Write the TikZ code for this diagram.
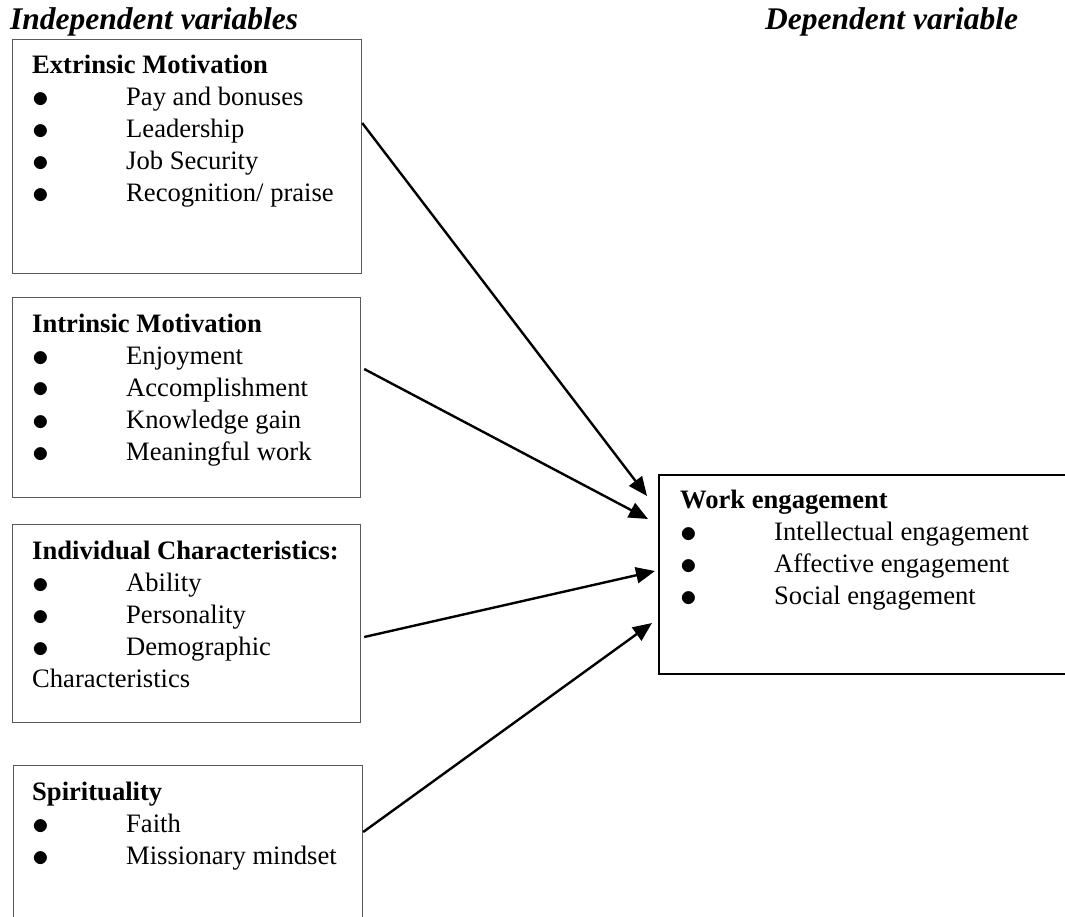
\documentclass[tikz,border=0pt]{standalone}
\usepackage{fontspec}
\setmainfont{Liberation Serif}
\usetikzlibrary{arrows.meta,calc}

\newcommand{\itemfont}{\fontsize{26.6}{32}\selectfont}
\newcommand{\titlefont}{\fontsize{31.5}{36}\selectfont\bfseries\itshape}
\newcommand{\dotmark}{\raisebox{-2pt}{\scalebox{1.35}{$\bullet$}}}

\tikzset{
  varbox/.style={draw=black!65,line width=1.2pt,rectangle,inner sep=0pt,anchor=north west},
  depbox/.style={draw=black,line width=1.8pt,rectangle,inner sep=0pt,anchor=north west},
  varlist/.style={inner sep=0pt,anchor=base west,font=\itemfont},
  heading/.style={inner sep=0pt,anchor=base west,font=\titlefont},
  link/.style={line width=2.4pt,-{Triangle[length=19pt,width=16pt]}}
}

\begin{document}
\begin{tikzpicture}[x=1pt,y=-1pt]
  \useasboundingbox (0,0) rectangle (1065,917);
  \clip (0,0) rectangle (1065,917);

  \node[heading] (indep) at (10,30) {Independent variables};
  \node[heading] (dep) at (765,30) {Dependent variable};

  % the boxes
  \node[varbox,minimum width=349,minimum height=234] (ext) at (12,39) {};
  \node[varbox,minimum width=348,minimum height=200] (intr) at (12,297) {};
  \node[varbox,minimum width=348,minimum height=198] (indiv) at (12,524) {};
  \node[varbox,minimum width=349,minimum height=180] (spir) at (13,765) {};
  \node[depbox,minimum width=450,minimum height=199] (work) at (658,474) {};

  % the lists
  \node[varlist] (extlist) at (32,74) {\begin{tabular}[t]{@{}p{94pt}@{}l@{}}
    \multicolumn{2}{@{}l@{}}{\textbf{Extrinsic Motivation}}\\
    \dotmark & Pay and bonuses\\
    \dotmark & Leadership\\
    \dotmark & Job Security\\
    \dotmark & Recognition/ praise
  \end{tabular}};
  \node[varlist] (intrlist) at (32,332) {\begin{tabular}[t]{@{}p{94pt}@{}l@{}}
    \multicolumn{2}{@{}l@{}}{\textbf{Intrinsic Motivation}}\\
    \dotmark & Enjoyment\\
    \dotmark & Accomplishment\\
    \dotmark & Knowledge gain\\
    \dotmark & Meaningful work
  \end{tabular}};
  \node[varlist] (indivlist) at (32,559) {\begin{tabular}[t]{@{}p{94pt}@{}l@{}}
    \multicolumn{2}{@{}l@{}}{\textbf{Individual Characteristics:}}\\
    \dotmark & Ability\\
    \dotmark & Personality\\
    \dotmark & Demographic\\
    \multicolumn{2}{@{}l@{}}{Characteristics}
  \end{tabular}};
  \node[varlist] (spirlist) at (32,800) {\begin{tabular}[t]{@{}p{94pt}@{}l@{}}
    \multicolumn{2}{@{}l@{}}{\textbf{Spirituality}}\\
    \dotmark & Faith\\
    \dotmark & Missionary mindset
  \end{tabular}};
  \node[varlist] (worklist) at (680,508) {\begin{tabular}[t]{@{}p{94pt}@{}l@{}}
    \multicolumn{2}{@{}l@{}}{\textbf{Work engagement}}\\
    \dotmark & Intellectual engagement\\
    \dotmark & Affective engagement\\
    \dotmark & Social engagement
  \end{tabular}};

  % arrow ends
  \coordinate (tip1) at ($(work.north west)+(-11,22)$);
  \coordinate (tip2) at ($(work.north west)+(-10,45)$);
  \coordinate (tip3) at ($(work.north west)+(-3,97)$);
  \coordinate (tip4) at ($(work.north west)+(-6,149)$);

  \draw[link] ($(ext.north east)+(0,84)$) -- (tip1);
  \draw[link] ($(intr.north east)+(3,72)$) -- (tip2);
  \draw[link] ($(indiv.north east)+(3,113)$) -- (tip3);
  \draw[link] ($(spir.north east)+(0,67)$) -- (tip4);
\end{tikzpicture}
\end{document}
